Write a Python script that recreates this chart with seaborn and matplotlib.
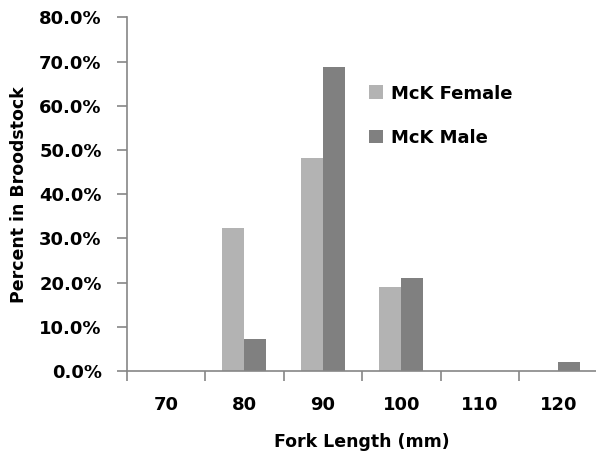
import matplotlib
matplotlib.use("Agg")
import matplotlib.pyplot as plt
import seaborn as sns
import pandas as pd
import numpy as np
from matplotlib.ticker import PercentFormatter, FixedLocator

categories = ["70", "80", "90", "100", "110", "120"]
female = [0.0, 0.324, 0.481, 0.190, 0.0, 0.0]
male = [0.0, 0.072, 0.687, 0.211, 0.0, 0.021]
series_names = ["McK Female", "McK Male"]

df = pd.DataFrame({
    "Fork Length": categories * 2,
    "Percent": female + male,
    "Series": [series_names[0]] * len(categories) + [series_names[1]] * len(categories),
})

sns.set_style("white")
plt.rcParams["font.family"] = ["DejaVu Sans"]
plt.rcParams["font.weight"] = "bold"
plt.rcParams["text.color"] = "black"
plt.rcParams["xtick.labelcolor"] = "black"
plt.rcParams["ytick.labelcolor"] = "black"
plt.rcParams["axes.labelcolor"] = "black"

fig = plt.figure(figsize=(5.96, 4.58), dpi=100)
ax = fig.add_axes([0.2126, 0.19, 0.79, 0.7718])

sns.barplot(data=df, x="Fork Length", y="Percent", hue="Series",
            order=categories, hue_order=series_names,
            palette=["#b3b3b3", "#808080"], width=0.56, gap=0,
            saturation=1, ax=ax, errorbar=None, linewidth=0, edgecolor="none")

ax.set_xlim(-0.5, 5.5)
ax.set_ylim(0, 0.8)
ax.yaxis.set_major_locator(FixedLocator(np.arange(0, 0.81, 0.1)))
ax.yaxis.set_major_formatter(PercentFormatter(1.0, decimals=1))

axis_col = "#868686"
for s in ["top", "right"]:
    ax.spines[s].set_visible(False)
for s in ["left", "bottom"]:
    ax.spines[s].set_color(axis_col)
    ax.spines[s].set_linewidth(1.2)

ax.tick_params(axis="y", direction="out", length=7, width=1.2, color=axis_col,
               labelsize=13, pad=11, left=True, labelcolor="black")
ax.tick_params(axis="x", which="major", length=0, labelsize=13, pad=18, labelcolor="black")
ax.set_xticks(np.arange(-0.5, 5.6, 1.0), minor=True)
ax.tick_params(axis="x", which="minor", direction="out", length=7, width=1.2,
               color=axis_col, bottom=True)
for lab in ax.get_xticklabels() + ax.get_yticklabels():
    lab.set_fontweight("bold")

ax.set_xlabel("Fork Length (mm)", fontsize=12.5, fontweight="bold", labelpad=14, color="black")
ax.set_ylabel("Percent in Broodstock", fontsize=12.5, fontweight="bold", labelpad=8, color="black")

handles, labels = ax.get_legend_handles_labels()
leg = ax.legend(handles, labels, loc="upper left", bbox_to_anchor=(0.607, 0.831),
          bbox_transform=fig.transFigure, frameon=False,
          prop={"weight": "bold", "size": 13},
          handlelength=0.8, handleheight=0.8, handletextpad=0.4,
          labelspacing=1.45, borderaxespad=0)
for t in leg.get_texts():
    t.set_color("black")

fig.savefig("out.png", dpi=100)
